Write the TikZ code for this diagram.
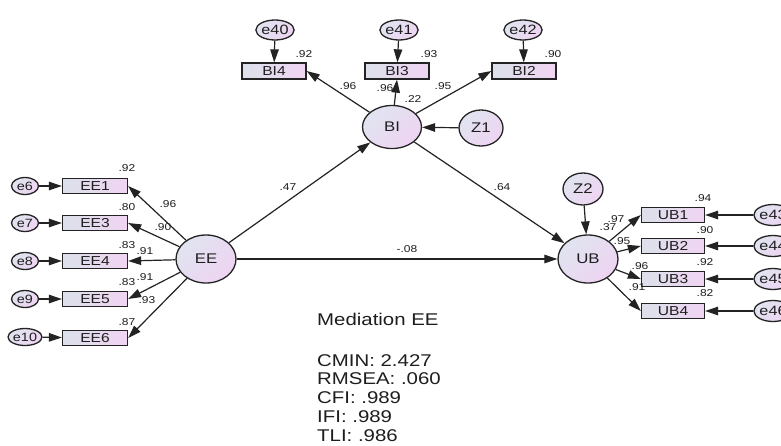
\documentclass[tikz,border=0pt]{standalone}
\usepackage{fontspec}
\setmainfont{Liberation Sans}[FakeStretch=1.2]
\usetikzlibrary{shapes.geometric,arrows.meta}
\definecolor{linec}{RGB}{35,35,35}
\definecolor{ellA}{RGB}{224,228,240}
\definecolor{ellB}{RGB}{238,212,242}
\definecolor{rectA}{RGB}{220,225,235}
\definecolor{rectB}{RGB}{240,212,242}
\definecolor{txt}{RGB}{30,30,30}
\newcommand{\fs}[1]{\fontsize{#1}{#1}\selectfont}
\tikzset{
  latent/.style={ellipse, draw=linec, line width=1.3pt, top color=ellA, bottom color=ellB, shading angle=45, inner sep=0pt, minimum width=60pt, minimum height=48pt, font=\fs{14}, text=txt},
  errv/.style={ellipse, draw=linec, line width=1.3pt, top color=ellA, bottom color=ellB, shading angle=45, inner sep=0pt, minimum width=34pt, minimum height=20pt, font=\fs{13.5}, text=txt},
  errs/.style={errv, minimum width=27pt, minimum height=17pt, font=\fs{12}},
  obsv/.style={rectangle, draw=linec, line width=1.3pt, left color=rectA, right color=rectB, inner sep=0pt, minimum width=64pt, minimum height=16pt, font=\fs{13}, text=txt},
  lab/.style={inner sep=0pt, font=\fs{10}, text=txt},
  arr/.style={-{Triangle[length=13pt,width=8.5pt]}, line width=1.2pt, draw=linec},
  fit/.style={inner sep=0pt, anchor=base west, font=\fs{17}, text=txt}
}
\begin{document}
\begin{tikzpicture}[x=1pt,y=-1pt]
\useasboundingbox (0,0) rectangle (781,445);
\fill[white] (0,0) rectangle (781,445);
\clip (0,0) rectangle (781,445);

% latent variables
\node[latent] (EE) at (206,259) {EE};
\node[latent, minimum width=59pt, minimum height=43pt] (BI) at (392,127) {BI};
\node[latent] (UB) at (588,259) {UB};
\node[latent, minimum width=44pt, minimum height=36pt] (Z1) at (481,128) {Z1};
\node[latent, minimum width=40pt, minimum height=32pt] (Z2) at (583,189) {Z2};

% BI indicators
\node[obsv] (BI4) at (274,71) {BI4};
\node[obsv] (BI3) at (397,71) {BI3};
\node[obsv] (BI2) at (524,71) {BI2};
\node[errv] (e40) at (275,30) {e40};
\node[errv] (e41) at (399,30) {e41};
\node[errv] (e42) at (523,30) {e42};

% EE indicators
\node[obsv, minimum width=65pt, minimum height=15pt] (EE1) at (95,186) {EE1};
\node[obsv, minimum width=65pt, minimum height=15pt] (EE3) at (95,223) {EE3};
\node[obsv, minimum width=65pt, minimum height=15pt] (EE4) at (95,261) {EE4};
\node[obsv, minimum width=65pt, minimum height=15pt] (EE5) at (95,299) {EE5};
\node[obsv, minimum width=65pt, minimum height=15pt] (EE6) at (95,338) {EE6};
\node[errs] (e6) at (25,186) {e6};
\node[errs] (e7) at (25,223) {e7};
\node[errs] (e8) at (25,261) {e8};
\node[errs] (e9) at (25,299) {e9};
\node[errs, minimum width=28pt] (e10) at (25,337) {e10};

% UB indicators
\node[obsv, minimum width=63pt, minimum height=15pt] (UB1) at (673,215) {UB1};
\node[obsv, minimum width=63pt, minimum height=15pt] (UB2) at (673,246) {UB2};
\node[obsv, minimum width=63pt, minimum height=15pt] (UB3) at (673,279) {UB3};
\node[obsv, minimum width=63pt, minimum height=15pt] (UB4) at (673,311) {UB4};
\node[errv, minimum height=21pt] (e43) at (773,215) {e43};
\node[errv, minimum height=21pt] (e44) at (773,246) {e44};
\node[errv, minimum height=21pt] (e45) at (773,279) {e45};
\node[errv, minimum height=21pt] (e46) at (773,311) {e46};

% connectors
\draw[arr] (e40) -- (BI4);
\draw[arr] (e41) -- (BI3);
\draw[arr] (e42) -- (BI2);
\draw[arr] (BI) -- (BI4.east);
\draw[arr] (BI) -- (BI3.south);
\draw[arr] (BI) -- (BI2.west);
\draw[arr] (Z1) -- (BI);
\draw[arr] (EE) -- (BI);
\draw[arr] (BI) -- (UB);
\draw[arr] (EE) -- (UB);
\draw[arr] (Z2) -- (UB);
\foreach \i in {1,3,4,5,6} \draw[arr] (EE) -- (EE\i.east);
\draw[arr] (e6) -- (EE1);
\draw[arr] (e7) -- (EE3);
\draw[arr] (e8) -- (EE4);
\draw[arr] (e9) -- (EE5);
\draw[arr] (e10) -- (EE6);
\foreach \i in {1,2,3,4} \draw[arr] (UB) -- (UB\i.west);
\draw[arr] (e43) -- (UB1);
\draw[arr] (e44) -- (UB2);
\draw[arr] (e45) -- (UB3);
\draw[arr] (e46) -- (UB4);

% labels: BI side
\node[lab] (r1) at (304,54) {.92};
\node[lab] (r2) at (429,54) {.93};
\node[lab] (r3) at (553,54) {.90};
\node[lab] (p1) at (348,86) {.96};
\node[lab] (p2) at (385,88) {.96};
\node[lab] (p3) at (443,86) {.95};
\node[lab] (r4) at (413,99) {.22};
\node[lab] (p4) at (288,187) {.47};
\node[lab] (p5) at (502,187) {.64};
\node[lab] (p6) at (407,249) {-.08};
% EE side
\node[lab] (r5) at (127,168) {.92};
\node[lab] (r6) at (127,207) {.80};
\node[lab] (r7) at (127,245) {.83};
\node[lab] (r8) at (127,282) {.83};
\node[lab] (r9) at (127,322) {.87};
\node[lab] (p7) at (168,204) {.96};
\node[lab] (p8) at (163,227) {.90};
\node[lab] (p9) at (145,251) {.91};
\node[lab] (p10) at (145,277) {.91};
\node[lab] (p11) at (147,300) {.93};
% UB side
\node[lab] (r10) at (703,198) {.94};
\node[lab] (r11) at (705,230) {.90};
\node[lab] (r12) at (705,262) {.92};
\node[lab] (r13) at (705,293) {.82};
\node[lab] (p12) at (616,219) {.97};
\node[lab] (r14) at (608,227) {.37};
\node[lab] (p13) at (622,241) {.95};
\node[lab] (p14) at (640,266) {.96};
\node[lab] (p15) at (637,287) {.91};

% fit text
\node[fit] (t1) at (317,325) {Mediation EE};
\node[fit] (t2) at (317,366) {CMIN: 2.427};
\node[fit] (t3) at (317,384) {RMSEA: .060};
\node[fit] (t4) at (317,403) {CFI: .989};
\node[fit] (t5) at (317,422) {IFI: .989};
\node[fit] (t6) at (317,441) {TLI: .986};
\end{tikzpicture}
\end{document}
